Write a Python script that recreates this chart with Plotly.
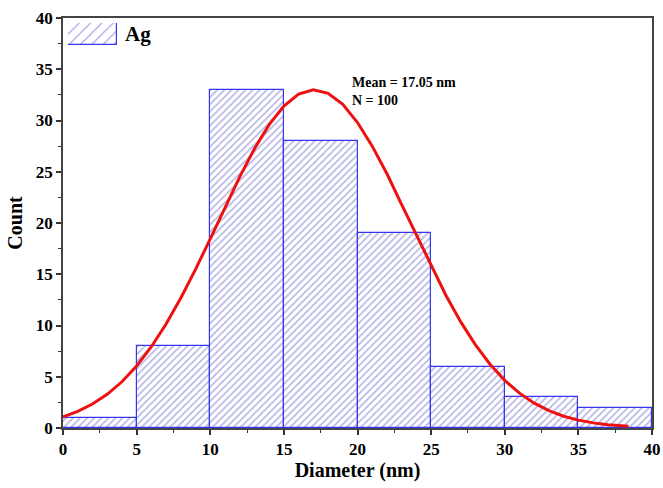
import plotly.graph_objects as go

bin_centers = [2.5, 7.5, 12.5, 17.5, 22.5, 27.5, 32.5, 37.5]
counts = [1, 8, 33, 28, 19, 6, 3, 2]

fit_x = [0, 1, 2, 3, 4, 5, 6, 7, 8, 9, 10, 11, 12, 13, 14, 15, 16, 17, 18, 19,
         20, 21, 22, 23, 24, 25, 26, 27, 28, 29, 30, 31, 32, 33, 34, 35, 36, 37, 38, 38.4]
fit_y = [1.1, 1.63, 2.34, 3.29, 4.51, 6.05, 7.93, 10.14, 12.68, 15.48, 18.45, 21.52,
         24.5, 27.24, 29.6, 31.4, 32.58, 33.0, 32.65, 31.57, 29.8, 27.5, 24.8, 21.8,
         18.8, 15.8, 12.95, 10.38, 8.13, 6.22, 4.65, 3.4, 2.42, 1.69, 1.15, 0.77, 0.5,
         0.32, 0.2, 0.16]

x_ticks = [0, 5, 10, 15, 20, 25, 30, 35, 40]
y_ticks = [0, 5, 10, 15, 20, 25, 30, 35, 40]
legend_label = "Ag"

font = "Liberation Serif"
hatch = dict(shape="/", fgcolor="#6464cc", bgcolor="white", size=5, solidity=0.3)
legend_hatch = dict(shape="/", fgcolor="#4a4ad6", bgcolor="white", size=8, solidity=0.15)
bar_line = dict(color="#3636ee", width=1.2)

fig = go.Figure()
fig.add_trace(go.Bar(
    x=bin_centers, y=counts, width=5, name=legend_label,
    marker=dict(color="white", line=bar_line, pattern=hatch),
    showlegend=False,
))
fig.add_trace(go.Scatter(
    x=fit_x, y=fit_y, mode="lines", line=dict(color="#ee1111", width=3),
    showlegend=False,
))
# legend key (hatched swatch) drawn on a small inset axis
fig.add_trace(go.Bar(
    x=[0], y=[1], width=1, xaxis="x2", yaxis="y2",
    marker=dict(color="white", line=bar_line, pattern=legend_hatch),
    showlegend=False, hoverinfo="skip",
))

axis_common = dict(
    showline=True, linecolor="#444444", linewidth=1.5, mirror=True,
    ticks="outside", ticklen=5, tickwidth=1.5, tickcolor="#333333",
    showgrid=False, zeroline=False, automargin=False,
    tickfont=dict(family=font, size=17, color="black", weight="bold"),
    minor=dict(ticks="outside", ticklen=3, tickwidth=1.2, tickcolor="#333333", dtick=2.5),
)
hidden = dict(visible=False, fixedrange=True)

fig.update_layout(
    width=663, height=488,
    margin=dict(l=63, r=11, t=18, b=60),
    paper_bgcolor="white", plot_bgcolor="white",
    bargap=0,
    showlegend=False,
    xaxis=dict(range=[0, 40], tickvals=x_ticks,
               title=dict(text="Diameter (nm)", font=dict(family=font, size=20, color="black", weight="bold"), standoff=4),
               **axis_common),
    yaxis=dict(range=[0, 40], tickvals=y_ticks,
               title=dict(text="Count", font=dict(family=font, size=20, color="black", weight="bold"), standoff=8),
               **axis_common),
    xaxis2=dict(domain=[0.0085, 0.0917], range=[-0.5, 0.5], anchor="y2", **hidden),
    yaxis2=dict(domain=[0.934, 0.988], range=[0, 1], anchor="x2", **hidden),
    annotations=[
        dict(x=0.102, y=0.961, xref="paper", yref="paper", xanchor="left", yanchor="middle",
             text=legend_label, showarrow=False,
             font=dict(family=font, size=21, color="black", weight="bold")),
        dict(x=0.488, y=0.867, xref="paper", yref="paper", xanchor="left", yanchor="top",
             text="Mean = 17.05 nm<br>N = 100", showarrow=False, align="left",
             font=dict(family=font, size=14, color="black", weight="bold")),
    ],
)

fig.write_html("out.html")
